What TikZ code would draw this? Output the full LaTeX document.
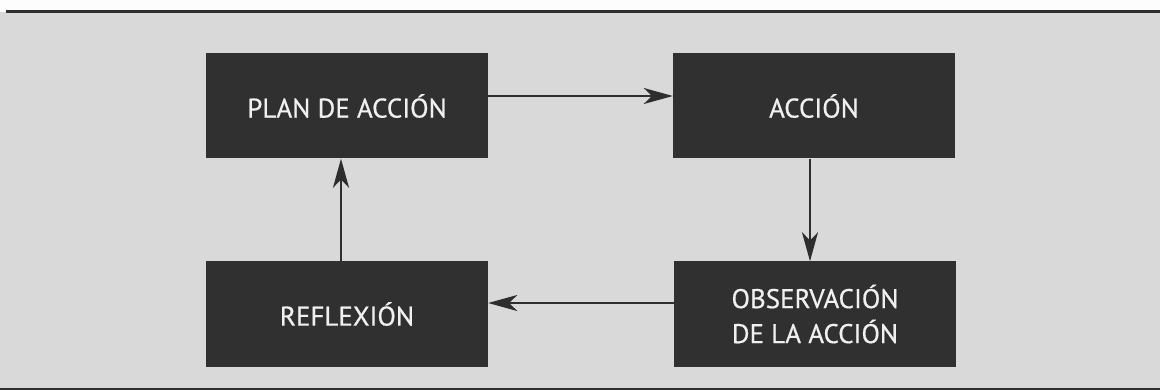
\documentclass[tikz,border=0pt]{standalone}
\usepackage{fontspec}
\setmainfont{PT Sans}
\newfontfamily\boxfont[FakeBold=0.6]{PT Sans}
\usetikzlibrary{arrows.meta}
\definecolor{bg}{HTML}{D9D9D9}
\definecolor{boxc}{HTML}{303030}
\definecolor{txt}{HTML}{F0F0F0}
\definecolor{linec}{HTML}{2E2E2E}
\tikzset{
  stepbox/.style={fill=boxc, draw=none, minimum width=282pt, minimum height=105pt,
    text=txt, font=\boxfont\fontsize{27}{35}\selectfont, align=center, inner sep=0pt},
  arr/.style={draw=linec, line width=2pt,
    -{Stealth[length=29pt, width=16pt, inset=8pt]}}
}
\begin{document}
\begin{tikzpicture}[x=1pt,y=-1pt]
\useasboundingbox (0,0) rectangle (1160,390);
\fill[white!95!bg] (0,0) rectangle (1160,12);
\fill[bg] (0,12) rectangle (1160,390);
\draw[linec, line width=3pt] (6,12) -- (1160,12);
\draw[linec, line width=2pt] (0,388.5) -- (1160,388.5);

\node[stepbox] (plan) at (347,106) {PLAN DE ACCIÓN};
\node[stepbox] (acc) at (814,106) {ACCIÓN};
\node[stepbox] (refl) at (347,314) {REFLEXIÓN};
\node[stepbox] (obs) at (815,314) {OBSERVACIÓN\\DE LA ACCIÓN};

\draw[arr] ([yshift=10pt]plan.east) -- ([yshift=10pt]plan.east -| acc.west);
\draw[arr] ([xshift=-4pt]acc.south) -- ([xshift=-4pt]acc.south |- obs.north);
\draw[arr] ([yshift=11pt]obs.west) -- ([yshift=11pt]obs.west -| refl.east);
\draw[arr] ([xshift=-6pt]refl.north) -- ([xshift=-6pt]refl.north |- plan.south);
\end{tikzpicture}
\end{document}
